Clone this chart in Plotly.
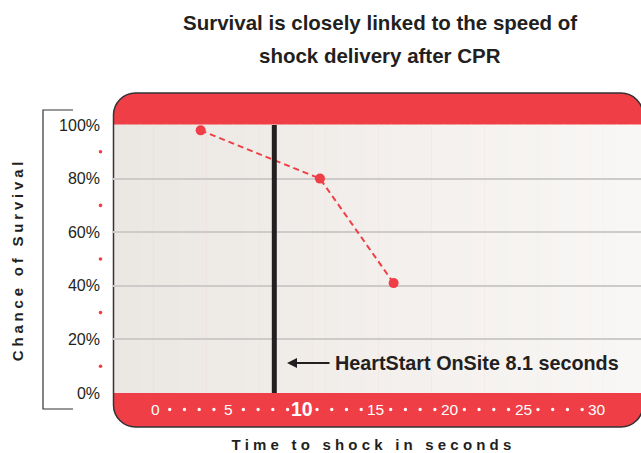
import plotly.graph_objects as go

# ---------------- data ----------------
time_s = [3.1, 11.2, 16.2]
survival_pct = [98, 80, 41]
onsite_time = 8.1
onsite_label = "HeartStart OnSite 8.1 seconds"

x_tick_vals = [0, 5, 10, 15, 20, 25, 30]
x_tick_text = ["0", "5", "10", "15", "20", "25", "30"]
x_minor_vals = [v for v in range(0, 31) if v % 5 != 0]

y_tick_vals = [0, 20, 40, 60, 80, 100]
y_tick_text = ["0%", "20%", "40%", "60%", "80%", "100%"]
y_minor_vals = [10, 30, 50, 70, 90]

title_lines = ["Survival is closely linked to the speed of", "shock delivery after CPR"]
x_title = "Time to shock in seconds"
y_title = "Chance of Survival"

# ---------------- style ----------------
RED = "#ef3e45"
INK = "#231f20"
FONT = "Liberation Sans"
W, H = 641, 453
PL, PR, PT, PB = 113, 641, 125, 393  # plot area in px
XPX0, XSCALE = 155.0, 14.73  # px of x=0, px per second


def pxx(x):
    return (x - PL) / (PR - PL)


def pxy(y):
    return (PB - y) / (PB - PT)


def dx(px):
    return (px - XPX0) / XSCALE


def rounded_path(L, T, R, B, r):
    k = 0.5523 * r
    pts = [
        ("M", [(L + r, T)]),
        ("L", [(R - r, T)]),
        ("C", [(R - r + k, T), (R, T + r - k), (R, T + r)]),
        ("L", [(R, B - r)]),
        ("C", [(R, B - r + k), (R - r + k, B), (R - r, B)]),
        ("L", [(L + r, B)]),
        ("C", [(L + r - k, B), (L, B - r + k), (L, B - r)]),
        ("L", [(L, T + r)]),
        ("C", [(L, T + r - k), (L + r - k, T), (L + r, T)]),
    ]
    s = ""
    for cmd, ps in pts:
        s += cmd + " ".join(f"{pxx(a):.5f},{pxy(b):.5f}" for a, b in ps) + " "
    return s + "Z"


PANEL_L, PANEL_R, PANEL_T, PANEL_B, RAD = 113.5, 643, 93, 427, 22

shapes = []
# red panel
shapes.append(dict(type="path", xref="paper", yref="paper", layer="below",
                   path=rounded_path(PANEL_L, PANEL_T, PANEL_R, PANEL_B, RAD),
                   fillcolor=RED, line=dict(width=0)))
# gradient interior
c0 = (235, 231, 227)
c1 = (249, 247, 245)
n = 40
for i in range(n):
    a = PANEL_L + (PANEL_R - PANEL_L) * i / n
    b = PANEL_L + (PANEL_R - PANEL_L) * (i + 1) / n + 0.6
    t = i / (n - 1)
    col = "rgb(%d,%d,%d)" % tuple(round(c0[j] + (c1[j] - c0[j]) * t) for j in range(3))
    shapes.append(dict(type="rect", xref="paper", yref="paper", layer="below",
                       x0=pxx(a), x1=pxx(b), y0=pxy(PB), y1=pxy(PT - 0.5),
                       fillcolor=col, line=dict(width=0)))
# outline
shapes.append(dict(type="path", xref="paper", yref="paper", layer="below",
                   path=rounded_path(PANEL_L, PANEL_T, PANEL_R, PANEL_B, RAD),
                   fillcolor="rgba(0,0,0,0)", line=dict(color="#333333", width=1.5)))
# y bracket
shapes.append(dict(type="path", xref="paper", yref="paper",
                   path=f"M{pxx(73):.5f},{pxy(110):.5f} L{pxx(43):.5f},{pxy(110):.5f} "
                        f"L{pxx(43):.5f},{pxy(409):.5f} L{pxx(73):.5f},{pxy(409):.5f}",
                   line=dict(color="#333333", width=1.2)))
# white dots between x labels (time axis, in seconds)
for v in x_minor_vals:
    shapes.append(dict(type="circle", xref="x", yref="paper",
                       xsizemode="pixel", ysizemode="pixel",
                       xanchor=v, yanchor=pxy(409.5),
                       x0=-1.7, x1=1.7, y0=-1.7, y1=1.7,
                       fillcolor="white", line=dict(width=0)))
# red dots between y labels
for v in y_minor_vals:
    shapes.append(dict(type="circle", xref="paper", yref="y",
                       xsizemode="pixel", ysizemode="pixel",
                       xanchor=pxx(100.5), yanchor=v,
                       x0=-1.8, x1=1.8, y0=-1.8, y1=1.8,
                       fillcolor=RED, line=dict(width=0)))

fig = go.Figure()

fig.add_trace(go.Scatter(
    x=time_s, y=survival_pct, mode="lines+markers",
    line=dict(color=RED, width=2, dash="6px,4px"),
    marker=dict(color=RED, size=10), hoverinfo="skip", showlegend=False))

fig.add_trace(go.Scatter(
    x=[onsite_time, onsite_time], y=[0, 100], mode="lines",
    line=dict(color=INK, width=5), hoverinfo="skip", showlegend=False))

annotations = []
# x tick labels inside the bottom red bar
for v, t in zip(x_tick_vals, x_tick_text):
    big = (v == 10)
    annotations.append(dict(text=(f"<b>{t}</b>" if big else t), xref="x", yref="paper",
                            x=v, y=pxy(409), showarrow=False,
                            xanchor="center", yanchor="middle",
                            font=dict(family=FONT, size=19.5 if big else 15.5, color="white")))
for i, line in enumerate(title_lines):
    annotations.append(dict(text=f"<b>{line}</b>", xref="paper", yref="paper",
                            x=pxx(380), y=pxy(22 + 33 * i), showarrow=False,
                            xanchor="center", yanchor="middle",
                            font=dict(family=FONT, size=20.5, color=INK)))
annotations.append(dict(text=f"<b>{x_title}</b>", xref="paper", yref="paper",
                        x=pxx(373), y=pxy(444), showarrow=False,
                        xanchor="center", yanchor="middle",
                        font=dict(family=FONT, size=15, color=INK)))
annotations.append(dict(text=f"<b>{y_title}</b>", xref="paper", yref="paper",
                        x=pxx(17), y=pxy(260), showarrow=False, textangle=-90,
                        xanchor="center", yanchor="middle",
                        font=dict(family=FONT, size=15, color=INK)))
annotations.append(dict(text=f"<b>{onsite_label}</b>", xref="paper", yref="paper",
                        x=pxx(333), y=pxy(363), showarrow=False,
                        xanchor="left", yanchor="middle",
                        font=dict(family=FONT, size=19.8, color=INK)))
annotations.append(dict(text="", xref="paper", yref="paper",
                        x=pxx(287), y=pxy(363), ax=44, ay=0,
                        showarrow=True, arrowhead=2, arrowsize=1.0, arrowwidth=2,
                        arrowcolor=INK, standoff=0, startstandoff=0))

fig.update_layout(
    width=W, height=H,
    margin=dict(l=PL, r=W - PR, t=PT, b=H - PB),
    paper_bgcolor="white", plot_bgcolor="rgba(0,0,0,0)",
    shapes=shapes, annotations=annotations, showlegend=False,
    xaxis=dict(range=[dx(PL), dx(PR)], showticklabels=False, showgrid=False,
               zeroline=False, showline=False, fixedrange=True),
    yaxis=dict(range=[0, 100], tickvals=y_tick_vals, ticktext=y_tick_text,
               showgrid=True, gridcolor="#cdcbc9", gridwidth=1.5, zeroline=False,
               showline=False, ticks="", ticklabelstandoff=12,
               tickfont=dict(family=FONT, size=16, color=INK), fixedrange=True),
)

post = """
document.body.style.margin = '0';
document.body.style.overflow = 'hidden';
var gd = document.getElementById('{plot_id}');
function ls(){
  gd.querySelectorAll('text').forEach(function(t){
    var s = t.textContent;
    if (s === 'Time to shock in seconds') { t.style.letterSpacing = '4.2px'; }
    if (s === 'Chance of Survival') { t.style.letterSpacing = '3.8px'; }
  });
}
ls();
gd.on('plotly_afterplot', ls);
"""

fig.write_html("out.html", config={"displayModeBar": False}, post_script=post)
